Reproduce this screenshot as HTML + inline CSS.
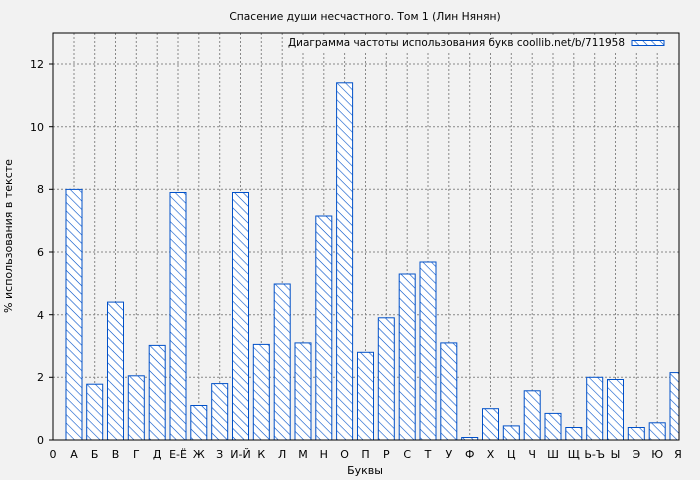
<!DOCTYPE html>
<html><head><meta charset="utf-8"><style>
body{margin:0;background:#f2f2f2;}
svg{display:block;font-family:"DejaVu Sans","Liberation Sans",sans-serif;}
</style></head><body>
<svg width="700" height="480" viewBox="0 0 700 480" xmlns="http://www.w3.org/2000/svg">
<defs>
<pattern id="h" patternUnits="userSpaceOnUse" width="6" height="6" patternTransform="rotate(45)">
<rect width="6" height="6" fill="#fff"/>
<line x1="0" y1="0" x2="6" y2="0" stroke="#0050c8" stroke-width="1.2"/>
</pattern>
<clipPath id="c"><rect x="53" y="33" width="626" height="407"/></clipPath>
</defs>
<rect width="700" height="480" fill="#f2f2f2"/>
<text x="365" y="20" font-size="10.7" text-anchor="middle">Спасение души несчастного. Том 1 (Лин Нянян)</text>
<g stroke="#888" stroke-width="1" stroke-dasharray="2,2">
<line x1="53" x2="679" y1="377.3" y2="377.3"/><line x1="53" x2="679" y1="314.7" y2="314.7"/>
<line x1="53" x2="679" y1="252" y2="252"/><line x1="53" x2="679" y1="189.3" y2="189.3"/>
<line x1="53" x2="679" y1="126.7" y2="126.7"/><line x1="53" x2="679" y1="64" y2="64"/>
<line x1="74" x2="74" y1="33" y2="440"/><line x1="94.7" x2="94.7" y1="33" y2="440"/><line x1="115.5" x2="115.5" y1="33" y2="440"/><line x1="136.3" x2="136.3" y1="33" y2="440"/><line x1="157.2" x2="157.2" y1="33" y2="440"/><line x1="178" x2="178" y1="33" y2="440"/><line x1="198.8" x2="198.8" y1="33" y2="440"/><line x1="219.7" x2="219.7" y1="33" y2="440"/><line x1="240.5" x2="240.5" y1="33" y2="440"/><line x1="261.3" x2="261.3" y1="33" y2="440"/><line x1="282.2" x2="282.2" y1="33" y2="440"/><line x1="303" x2="303" y1="33" y2="440"/><line x1="323.8" x2="323.8" y1="33" y2="440"/><line x1="344.6" x2="344.6" y1="33" y2="440"/><line x1="365.5" x2="365.5" y1="33" y2="440"/><line x1="386.3" x2="386.3" y1="33" y2="440"/><line x1="407.2" x2="407.2" y1="33" y2="440"/><line x1="428" x2="428" y1="33" y2="440"/><line x1="448.8" x2="448.8" y1="33" y2="440"/><line x1="469.7" x2="469.7" y1="33" y2="440"/><line x1="490.5" x2="490.5" y1="33" y2="440"/><line x1="511.3" x2="511.3" y1="33" y2="440"/><line x1="532.2" x2="532.2" y1="33" y2="440"/><line x1="553" x2="553" y1="33" y2="440"/><line x1="573.8" x2="573.8" y1="33" y2="440"/><line x1="594.7" x2="594.7" y1="33" y2="440"/><line x1="615.5" x2="615.5" y1="33" y2="440"/><line x1="636.3" x2="636.3" y1="33" y2="440"/><line x1="657.2" x2="657.2" y1="33" y2="440"/>
</g>
<rect x="285" y="35" width="390" height="16" fill="#f2f2f2"/>
<g clip-path="url(#c)" fill="url(#h)" stroke="#0050c8" stroke-width="1">
<rect x="66" y="189.4" width="16" height="250.6"/>
<rect x="86.7" y="384.2" width="16" height="55.8"/>
<rect x="107.5" y="302.1" width="16" height="137.9"/>
<rect x="128.3" y="375.8" width="16" height="64.2"/>
<rect x="149.2" y="345.4" width="16" height="94.6"/>
<rect x="170" y="192.5" width="16" height="247.5"/>
<rect x="190.8" y="405.5" width="16" height="34.5"/>
<rect x="211.7" y="383.6" width="16" height="56.4"/>
<rect x="232.5" y="192.5" width="16" height="247.5"/>
<rect x="253.3" y="344.4" width="16" height="95.6"/>
<rect x="274.2" y="284" width="16" height="156"/>
<rect x="295" y="342.9" width="16" height="97.1"/>
<rect x="315.8" y="216" width="16" height="224"/>
<rect x="336.6" y="82.8" width="16" height="357.2"/>
<rect x="357.5" y="352.3" width="16" height="87.7"/>
<rect x="378.3" y="317.8" width="16" height="122.2"/>
<rect x="399.2" y="274" width="16" height="166"/>
<rect x="420" y="262" width="16" height="178"/>
<rect x="440.8" y="342.9" width="16" height="97.1"/>
<rect x="461.7" y="437.5" width="16" height="2.5"/>
<rect x="482.5" y="408.7" width="16" height="31.3"/>
<rect x="503.3" y="425.9" width="16" height="14.1"/>
<rect x="524.2" y="390.8" width="16" height="49.2"/>
<rect x="545" y="413.4" width="16" height="26.6"/>
<rect x="565.8" y="427.5" width="16" height="12.5"/>
<rect x="586.7" y="377.3" width="16" height="62.7"/>
<rect x="607.5" y="379.5" width="16" height="60.5"/>
<rect x="628.3" y="427.5" width="16" height="12.5"/>
<rect x="649.2" y="422.8" width="16" height="17.2"/>
<rect x="670" y="372.6" width="16" height="67.4"/>
</g>
<rect x="53" y="33" width="626" height="407" fill="none" stroke="#000" stroke-width="1"/>
<text x="625" y="46" font-size="10.5" text-anchor="end" textLength="337" lengthAdjust="spacingAndGlyphs">Диаграмма частоты использования букв coollib.net/b/711958</text>
<rect x="632" y="40.5" width="32" height="5" fill="url(#h)" stroke="#0050c8"/>
<g font-size="11" text-anchor="end">
<text x="44" y="444">0</text><text x="44" y="381">2</text><text x="44" y="319">4</text>
<text x="44" y="256">6</text><text x="44" y="193">8</text><text x="44" y="131">10</text><text x="44" y="68">12</text>
</g>
<g stroke="#000"><line x1="49" x2="53" y1="440" y2="440"/><line x1="49" x2="53" y1="377.3" y2="377.3"/><line x1="49" x2="53" y1="314.7" y2="314.7"/><line x1="49" x2="53" y1="252" y2="252"/><line x1="49" x2="53" y1="189.3" y2="189.3"/><line x1="49" x2="53" y1="126.7" y2="126.7"/><line x1="49" x2="53" y1="64" y2="64"/></g>
<g font-size="11" text-anchor="middle">
<text x="53" y="458">0</text><text x="74" y="458">А</text><text x="94.7" y="458">Б</text><text x="115.5" y="458">В</text><text x="136.3" y="458">Г</text><text x="157.2" y="458">Д</text><text x="178" y="458">Е-Ё</text><text x="198.8" y="458">Ж</text><text x="219.7" y="458">З</text><text x="240.5" y="458">И-Й</text><text x="261.3" y="458">К</text><text x="282.2" y="458">Л</text><text x="303" y="458">М</text><text x="323.8" y="458">Н</text><text x="344.6" y="458">О</text><text x="365.5" y="458">П</text><text x="386.3" y="458">Р</text><text x="407.2" y="458">С</text><text x="428" y="458">Т</text><text x="448.8" y="458">У</text><text x="469.7" y="458">Ф</text><text x="490.5" y="458">Х</text><text x="511.3" y="458">Ц</text><text x="532.2" y="458">Ч</text><text x="553" y="458">Ш</text><text x="573.8" y="458">Щ</text><text x="594.7" y="458">Ь-Ъ</text><text x="615.5" y="458">Ы</text><text x="636.3" y="458">Э</text><text x="657.2" y="458">Ю</text><text x="678" y="458">Я</text>
<text x="365" y="474">Буквы</text>
<text x="12" y="236" transform="rotate(-90 12 236)">% использования в тексте</text>
</g>
</svg>
</body></html>
